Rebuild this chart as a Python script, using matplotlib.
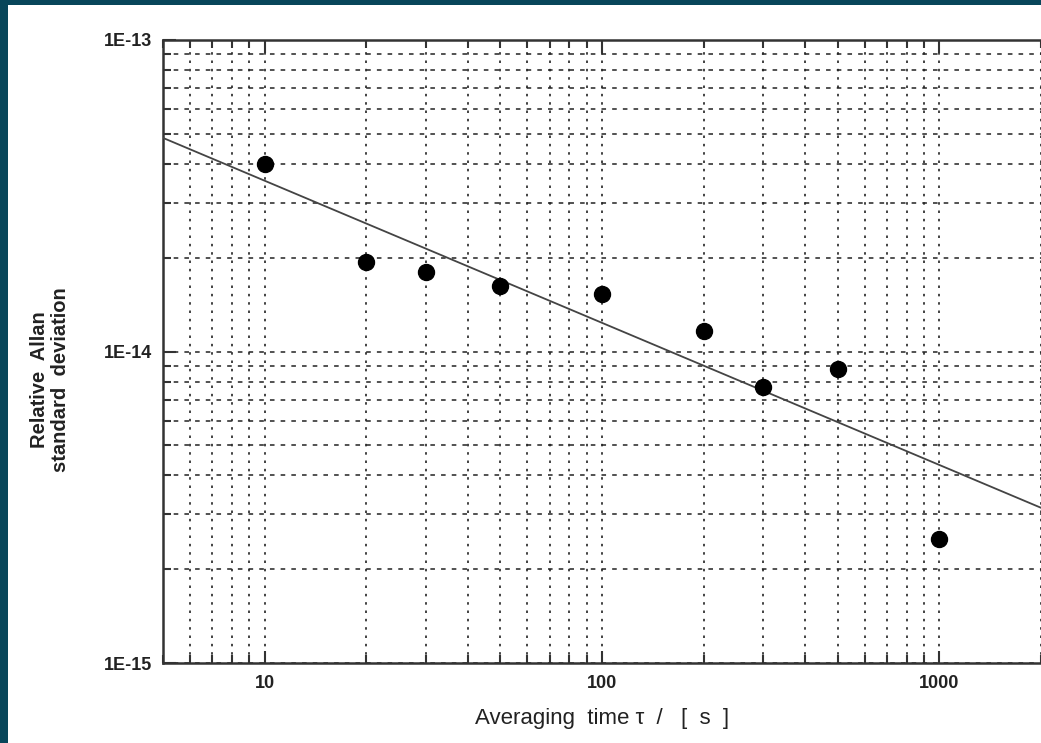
import matplotlib.pyplot as plt
import matplotlib.ticker as mticker
from matplotlib.patches import Rectangle

# measured Allan deviation
tau = [10, 20, 30, 50, 100, 200, 300, 500, 1000]
adev = [4.0e-14, 1.94e-14, 1.80e-14, 1.62e-14, 1.53e-14, 1.16e-14, 7.7e-15, 8.8e-15, 2.5e-15]

# fitted line (end points)
fit_tau = [5, 2000]
fit_adev = [4.85e-14, 3.15e-15]

xticks = [10, 100, 1000]
xticklabels = ['10', '100', '1000']
yticks = [1e-15, 1e-14, 1e-13]
yticklabels = ['1E-15', '1E-14', '1E-13']

plt.rcParams['font.family'] = ['Liberation Sans', 'DejaVu Sans']

fig = plt.figure(figsize=(10.41, 7.43), dpi=100)
fig.patch.set_facecolor('#08465a')
fig.patches.append(Rectangle((8 / 1041, 0), 1, 1 - 5 / 743, transform=fig.transFigure,
                             facecolor='white', edgecolor='none', zorder=-5))

ax = fig.add_axes([163 / 1041, 1 - 663 / 743, 1 - 163 / 1041, (663 - 40) / 743])
ax.set_zorder(2)
ax.set_xscale('log')
ax.set_yscale('log')
ax.set_xlim(5, 2000)
ax.set_ylim(1e-15, 1e-13)

ax.plot(fit_tau, fit_adev, color='#444444', lw=1.3, zorder=3)
ax.plot(tau, adev, 'o', color='black', ms=11.5, zorder=4)

ax.xaxis.set_major_locator(mticker.FixedLocator(xticks))
ax.xaxis.set_major_formatter(mticker.FixedFormatter(xticklabels))
ax.xaxis.set_minor_locator(mticker.LogLocator(base=10, subs=range(2, 10), numticks=20))
ax.xaxis.set_minor_formatter(mticker.NullFormatter())
ax.yaxis.set_major_locator(mticker.FixedLocator(yticks))
ax.yaxis.set_major_formatter(mticker.FixedFormatter(yticklabels))
ax.yaxis.set_minor_locator(mticker.LogLocator(base=10, subs=range(2, 10), numticks=20))
ax.yaxis.set_minor_formatter(mticker.NullFormatter())

ax.tick_params(which='both', direction='in', top=True, right=False, color='#333333', width=1.5)
ax.tick_params(which='major', length=9, labelsize=13)
ax.tick_params(axis='x', which='major', pad=9)
ax.tick_params(axis='y', which='major', pad=8)
ax.tick_params(which='minor', length=6)
for lab in ax.get_xticklabels() + ax.get_yticklabels():
    lab.set_fontweight('bold')
    lab.set_color('#222222')

ax.xaxis.grid(True, which='both', color='#222222', lw=1.2, dashes=(1.5, 3.5))
ax.yaxis.grid(True, which='both', color='#222222', lw=1.1, dashes=(3, 4))

for side in ['left', 'bottom', 'top']:
    ax.spines[side].set_linewidth(1.8)
    ax.spines[side].set_color('#333333')
ax.spines['right'].set_visible(False)

ax.set_xlabel('Averaging  time \u03c4  /   [  s  ]', fontsize=16, color='#222222', labelpad=11)
fig.text(50 / 1041, 1 - 380 / 743, 'Relative  Allan\nstandard  deviation', rotation=90,
         ha='center', va='center', fontsize=14.5, fontweight='bold', color='#222222',
         linespacing=1.15)

fig.savefig('out.png', dpi=100, facecolor=fig.get_facecolor())
